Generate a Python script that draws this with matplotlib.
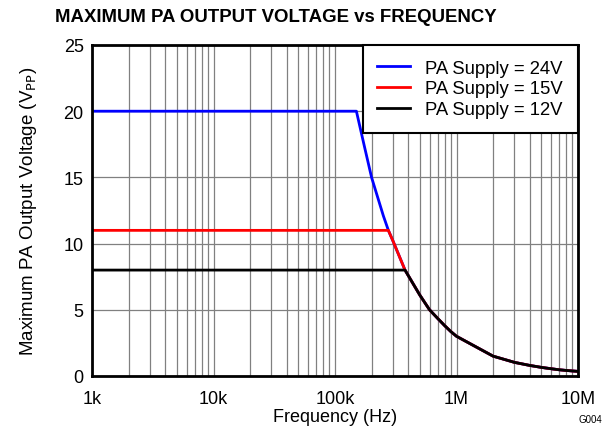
import matplotlib
matplotlib.use("Agg")
import matplotlib.pyplot as plt
from matplotlib.ticker import FixedLocator, LogLocator, NullFormatter

plt.rcParams['font.family'] = ['Liberation Sans', 'DejaVu Sans']

# Data
freq_24 = [1e3, 150e3, 175e3, 200e3, 250e3, 275e3, 300e3, 377e3, 400e3, 500e3, 600e3,
           700e3, 800e3, 900e3, 1e6, 2e6, 3e6, 4e6, 5e6, 6e6, 7e6, 8e6, 9e6, 10e6]
volt_24 = [20, 20, 17.3, 15.0, 12.1, 11.0, 10.2, 8.0, 7.6, 6.1, 5.0,
           4.35, 3.8, 3.35, 3.0, 1.5, 1.03, 0.8, 0.65, 0.55, 0.47, 0.42, 0.38, 0.35]
freq_15 = [1e3, 275e3, 300e3, 377e3, 400e3, 500e3, 600e3,
           700e3, 800e3, 900e3, 1e6, 2e6, 3e6, 4e6, 5e6, 6e6, 7e6, 8e6, 9e6, 10e6]
volt_15 = [11, 11, 10.2, 8.0, 7.6, 6.1, 5.0,
           4.35, 3.8, 3.35, 3.0, 1.5, 1.03, 0.8, 0.65, 0.55, 0.47, 0.42, 0.38, 0.35]
freq_12 = [1e3, 377e3, 400e3, 500e3, 600e3,
           700e3, 800e3, 900e3, 1e6, 2e6, 3e6, 4e6, 5e6, 6e6, 7e6, 8e6, 9e6, 10e6]
volt_12 = [8, 8.0, 7.6, 6.1, 5.0,
           4.35, 3.8, 3.35, 3.0, 1.5, 1.03, 0.8, 0.65, 0.55, 0.47, 0.42, 0.38, 0.35]

series_labels = ['PA Supply = 24V', 'PA Supply = 15V', 'PA Supply = 12V']
series_colors = ['#0000ff', '#ff0000', '#000000']
x_ticks = [1e3, 1e4, 1e5, 1e6, 1e7]
x_tick_labels = ['1k', '10k', '100k', '1M', '10M']
y_ticks = [0, 5, 10, 15, 20, 25]

fig = plt.figure(figsize=(6.09, 4.31), dpi=100)
ax = fig.add_axes([92/609, 1-377/431, (578-92)/609, (377-46)/431])

for f, v, lab, c in zip([freq_24, freq_15, freq_12], [volt_24, volt_15, volt_12],
                        series_labels, series_colors):
    ax.plot(f, v, color=c, lw=2, label=lab, zorder=3)

ax.set_xscale('log')
ax.set_xlim(1e3, 1e7)
ax.set_ylim(0, 25)
ax.xaxis.set_major_locator(FixedLocator(x_ticks))
ax.set_xticks(x_ticks)
ax.set_xticklabels(x_tick_labels)
ax.xaxis.set_minor_locator(LogLocator(base=10, subs=range(2, 10)))
ax.xaxis.set_minor_formatter(NullFormatter())
ax.set_yticks(y_ticks)

ax.grid(True, which='major', axis='both', color='#808080', lw=0.9)
ax.grid(True, which='minor', axis='x', color='#808080', lw=0.9)
ax.tick_params(which='both', length=0, labelsize=13, colors='black')
ax.tick_params(axis='x', pad=10)
ax.tick_params(axis='y', pad=6)
for s in ax.spines.values():
    s.set_linewidth(2)
    s.set_color('black')
    s.set_zorder(4)

ax.set_xlabel('Frequency (Hz)', fontsize=13, labelpad=1)
ax.set_ylabel('Maximum PA Output Voltage (V$_{\\mathrm{PP}}$)', fontsize=13.5, labelpad=18)
fig.text(276/609, 1-18/431, 'MAXIMUM PA OUTPUT VOLTAGE vs FREQUENCY', fontsize=13.4,
         fontweight='bold', ha='center', va='center')

leg = ax.legend(loc='upper right', fontsize=13.3, frameon=True, fancybox=False,
                edgecolor='black', framealpha=1, borderaxespad=0,
                handlelength=1.75, handletextpad=0.85, labelspacing=0.2,
                borderpad=0.8)
leg.get_frame().set_linewidth(1.5)
leg.set_zorder(5)

fig.text(590/609, 1-420/431, 'G004', fontsize=7, ha='center', va='center')

fig.savefig('out.png', dpi=100)
